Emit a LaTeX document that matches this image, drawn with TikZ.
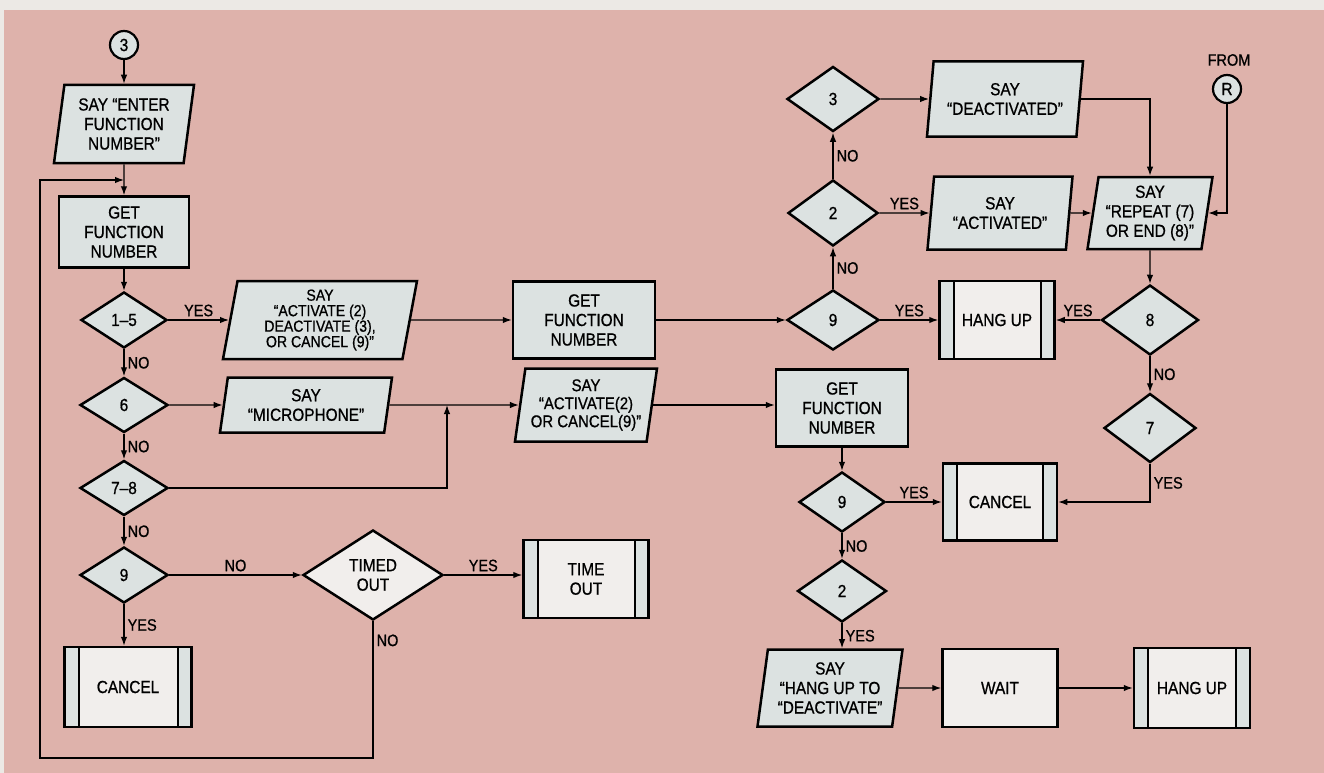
\documentclass[tikz,border=0pt]{standalone}
\usepackage{fontspec}
\setmainfont{Liberation Sans}[FakeStretch=0.88, FakeBold=0.8]
\usetikzlibrary{shapes.geometric,arrows.meta}
\definecolor{paper}{RGB}{236,233,229}
\definecolor{pinkbg}{RGB}{222,178,171}
\definecolor{nodegrey}{RGB}{220,226,225}
\definecolor{light}{RGB}{241,238,236}
\begin{document}
\begin{tikzpicture}[x=1pt,y=-1pt,
  sz/.style 2 args={minimum width=#1pt, minimum height=#2pt},
  base/.style={draw=black, line width=2.5pt, fill=nodegrey, align=center, inner sep=1pt,
    font=\fontsize{17.5}{19.5}\selectfont},
  proc/.style={base, rectangle},
  io/.style={base, trapezium, trapezium left angle=#1, trapezium right angle={180-#1},
    trapezium stretches body},
  io/.default=79,
  dec/.style={base, diamond, aspect=1.6, inner sep=0pt},
  pre/.style={base, rectangle, fill=light, path picture={
    \fill[fill=nodegrey] (path picture bounding box.north west) rectangle ([xshift=14pt]path picture bounding box.south west);
    \fill[fill=nodegrey] (path picture bounding box.north east) rectangle ([xshift=-14pt]path picture bounding box.south east);
    \draw[line width=2pt] ([xshift=14pt]path picture bounding box.north west) -- ([xshift=14pt]path picture bounding box.south west);
    \draw[line width=2pt] ([xshift=-14pt]path picture bounding box.north east) -- ([xshift=-14pt]path picture bounding box.south east);
  }},
  term/.style={base, circle, minimum size=28pt, inner sep=0pt, line width=2.2pt},
  conn/.style={line width=1.3pt, -{Latex[length=9pt,width=6.5pt]}},
  lbl/.style={font=\fontsize{16.5}{18}\selectfont, inner sep=3pt}
]
\useasboundingbox (0,0) rectangle (1324,773);
\fill[paper] (0,0) rectangle (1324,773);
\fill[pinkbg] (4,10) rectangle (1324,773);

% left column
\node[term] (c3) at (124,45) {3};
\node[io, sz={140}{78}] (enter) at (124,124) {SAY “ENTER\\FUNCTION\\NUMBER”};
\node[proc, sz={130}{71}] (get1) at (124,232) {GET\\FUNCTION\\NUMBER};
\node[dec, sz={86}{56}] (d15) at (124,320) {1–5};
\node[dec, sz={88}{55}] (d6) at (124,405) {6};
\node[dec, sz={88}{55}] (d78) at (124,488) {7–8};
\node[dec, sz={88}{56}] (d9a) at (124,575) {9};
\node[pre, sz={127}{80}] (cancel1) at (128,687) {CANCEL};
\node[dec, fill=light, sz={140}{90}] (timed) at (373,575) {TIMED\\OUT};
\node[pre, sz={125}{78}] (timeout) at (586,579) {TIME\\OUT};

% middle
\node[io=77, sz={194}{78}, font=\fontsize{16}{15.5}\selectfont] (say1) at (320,320) {SAY\\“ACTIVATE (2)\\DEACTIVATE (3),\\OR CANCEL (9)”};
\node[io=77, sz={172}{55}] (micro) at (306,405) {SAY\\“MICROPHONE”};
\node[proc, sz={142}{77}] (get2) at (584,320) {GET\\FUNCTION\\NUMBER};
\node[io, sz={142}{73}, font=\fontsize{17}{18}\selectfont] (act2) at (586,405) {SAY\\“ACTIVATE(2)\\OR CANCEL(9)”};
\node[proc, sz={132}{77}] (get3) at (842,408) {GET\\FUNCTION\\NUMBER};
\coordinate (j1) at (447,405);

% right upper
\node[dec, sz={92}{60}] (d9b) at (833,320) {9};
\node[dec, sz={90}{66}] (d2a) at (833,213) {2};
\node[dec, sz={92}{65}] (d3) at (833,99) {3};
\node[pre, sz={115}{78}] (hang1) at (997,320) {HANG UP};
\node[io, sz={145}{73}] (activated) at (1000,213) {SAY\\“ACTIVATED”};
\node[io, sz={156}{75}] (deactivated) at (1005,99) {SAY\\“DEACTIVATED”};
\node[io, sz={125}{72}] (repeat) at (1150,213) {SAY\\“REPEAT (7)\\OR END (8)”};
\node[term] (cR) at (1227,89) {R};
\node[lbl] (from) at (1229,60) {FROM};
\node[dec, sz={97}{70}] (d8) at (1150,320) {8};
\node[dec, sz={92}{69}] (d7) at (1150,428) {7};

% right lower
\node[dec, sz={86}{60}] (d9c) at (842,502) {9};
\node[pre, sz={114}{77}] (cancel2) at (1000,502) {CANCEL};
\node[dec, sz={89}{62}] (d2b) at (842,591) {2};
\node[io, sz={145}{77}] (hangto) at (830,688) {SAY\\“HANG UP TO\\“DEACTIVATE”};
\node[proc, fill=light, sz={115}{78}] (wait) at (1000,688) {WAIT};
\node[pre, sz={116}{80}] (hang2) at (1192,688) {HANG UP};

\coordinate (m1) at (124,180);
\coordinate (loopL) at (40,758);

% connectors left
\draw[conn] (c3) -- (c3 |- enter.north);
\draw[conn] (enter) -- (get1);
\draw[conn] (get1) -- (d15);
\draw[conn] (d15.east) -- node[lbl, above]{YES} (d15.east -| say1.west);
\draw[conn] (d15) -- node[lbl, right]{NO} (d6);
\draw[conn] (d6) -- (micro);
\draw[conn] (d6) -- node[lbl, right]{NO} (d78);
\draw[conn] (d78) -- node[lbl, right]{NO} (d9a);
\draw[conn] (d78.east) -| (j1);
\draw[conn] (micro.east) -- (act2.west);
\draw[conn] (d9a.east) -- node[lbl, above]{NO} (timed.west);
\draw[conn] (timed.east) -- node[lbl, above]{YES} (timed.east -| timeout.west);
\draw[conn] (d9a.south) -- node[lbl, right]{YES} (d9a.south |- cancel1.north);
\draw[conn] (timed.south) |- node[lbl, right, pos=0.07]{NO} (loopL) |- (m1);

% connectors middle
\draw[conn] (say1.east) -- (get2.west);
\draw[conn] (get2.east) -- (d9b.west);
\draw[conn] (act2.east) -- (act2.east -| get3.west);

% connectors right
\draw[conn] (d9b.east) -- node[lbl, above]{YES} (hang1.west);
\draw[conn] (d9b) -- node[lbl, right]{NO} (d2a);
\draw[conn] (d2a) -- node[lbl, right]{NO} (d3);
\draw[conn] (d2a.east) -- node[lbl, above]{YES} (activated.west);
\draw[conn] (d3.east) -- (deactivated.west);
\draw[conn] (deactivated.east) -| (repeat);
\draw[conn] (activated.east) -- (repeat.west);
\draw[conn] (cR) |- (repeat.east);
\draw[conn] (repeat) -- (d8);
\draw[conn] (d8.west) -- node[lbl, above]{YES} (hang1.east);
\draw[conn] (d8) -- node[lbl, right]{NO} (d7);
\draw[conn] (d7.south) |- node[lbl, right, pos=0.25]{YES} (cancel2.east);
\draw[conn] (get3) -- (d9c);
\draw[conn] (d9c.east) -- node[lbl, above]{YES} (cancel2.west);
\draw[conn] (d9c) -- node[lbl, right]{NO} (d2b);
\draw[conn] (d2b.south) -- node[lbl, right]{YES} (d2b.south |- hangto.north);
\draw[conn] (hangto.east) -- (wait.west);
\draw[conn] (wait.east) -- (hang2.west);
\end{tikzpicture}
\end{document}
